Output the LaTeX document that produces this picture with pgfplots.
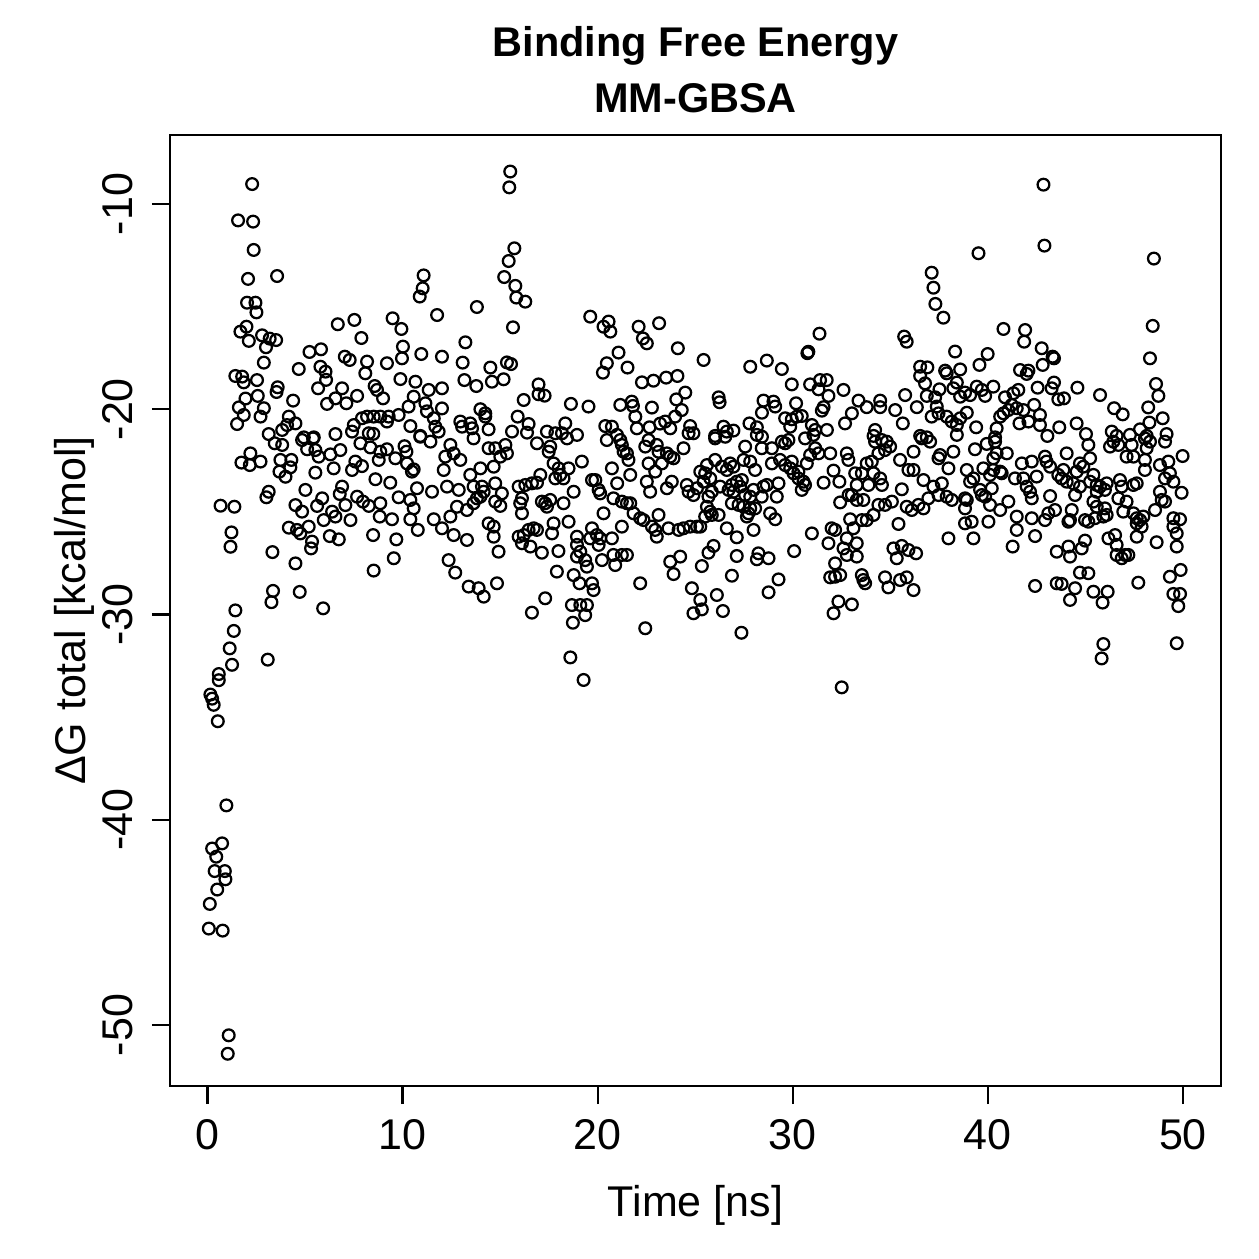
\documentclass[border=0pt]{standalone}
\usepackage{fontspec}
\setmainfont{Liberation Sans}
\usepackage{pgfplots}
\usepackage{pgfplotstable}
\pgfplotsset{compat=1.18}

% MM-GBSA binding free energy per frame: time [ns], dG total [kcal/mol]
\pgfplotstableread{
t dG
0.07 -45.3
0.78 -45.4
0.12 -44.1
0.50 -43.4
0.92 -42.9
0.89 -42.5
0.37 -42.5
0.45 -41.8
0.24 -41.4
0.75 -41.15
0.97 -39.3
0.53 -35.2
0.32 -34.4
0.24 -34.1
0.15 -33.9
0.58 -33.2
0.58 -32.9
1.26 -32.45
1.09 -50.5
1.04 -51.4
0.67 -24.7
1.38 -24.75
1.23 -26.0
1.18 -26.7
3.33 -26.96
4.51 -27.51
3.36 -28.85
3.28 -29.4
4.73 -28.9
5.93 -29.7
1.43 -29.8
1.35 -30.8
1.14 -31.65
3.09 -32.2
2.29 -9.03
1.57 -10.80
2.34 -10.86
2.37 -12.24
2.08 -13.65
3.57 -13.51
2.03 -14.81
2.46 -14.81
2.51 -15.28
2.00 -15.98
1.69 -16.22
2.12 -16.67
2.80 -16.40
3.00 -16.98
3.19 -16.56
3.52 -16.63
2.89 -17.73
1.43 -18.38
1.78 -18.41
1.86 -18.69
2.54 -18.58
3.60 -18.93
3.54 -19.16
2.58 -19.35
1.95 -19.48
1.61 -19.91
2.89 -19.95
1.86 -20.28
2.72 -20.36
1.52 -20.72
4.39 -19.58
4.68 -18.04
5.23 -17.21
5.82 -17.08
5.79 -17.93
6.05 -18.17
6.08 -18.57
5.67 -18.98
6.68 -15.86
7.53 -15.65
7.89 -16.53
7.04 -17.44
7.29 -17.60
8.18 -17.68
8.09 -18.25
6.90 -18.98
6.56 -19.47
7.67 -19.35
8.57 -18.87
9.20 -17.76
9.49 -15.57
9.94 -16.09
10.02 -16.95
9.97 -17.52
9.89 -18.53
10.96 -17.31
11.08 -13.48
11.03 -14.11
10.88 -14.51
11.77 -15.41
12.02 -17.44
10.66 -18.66
9.00 -19.47
8.69 -19.06
11.34 -19.06
12.02 -18.98
11.17 -19.71
10.31 -19.87
9.80 -20.28
9.29 -20.36
8.86 -20.36
8.52 -20.36
8.18 -20.36
7.92 -20.44
7.50 -20.77
7.12 -19.71
6.13 -19.74
7.41 -21.09
8.27 -21.17
10.40 -20.82
10.91 -21.30
11.60 -20.44
11.68 -20.85
11.85 -21.09
6.56 -21.21
4.94 -21.37
5.45 -21.37
3.14 -21.21
4.17 -20.36
4.08 -20.77
4.51 -20.69
3.83 -21.01
9.20 -20.60
10.57 -19.39
11.25 -20.10
12.02 -19.96
8.50 -21.20
3.45 -21.66
3.83 -21.74
4.85 -21.50
5.41 -21.42
5.11 -21.95
5.53 -21.99
5.70 -22.31
6.30 -22.20
6.81 -21.99
2.20 -22.15
1.74 -22.60
2.17 -22.72
2.72 -22.55
3.74 -22.47
4.30 -22.47
4.25 -22.83
3.69 -23.04
4.00 -23.29
5.53 -23.09
6.47 -22.88
7.41 -22.96
7.92 -22.77
7.58 -22.55
7.84 -21.66
8.35 -21.86
8.86 -22.07
9.20 -21.95
9.63 -22.39
10.10 -21.80
10.20 -22.07
10.91 -21.34
11.43 -21.58
8.78 -22.47
8.61 -23.41
9.37 -23.58
10.23 -22.64
10.48 -23.04
10.57 -22.93
10.74 -23.85
11.51 -24.02
9.80 -24.29
10.40 -24.42
10.57 -24.83
10.40 -25.36
10.78 -25.88
11.60 -25.36
8.83 -25.23
9.46 -25.36
8.86 -24.58
8.27 -24.71
7.97 -24.50
7.67 -24.26
7.33 -25.40
7.07 -24.67
6.90 -23.77
6.78 -24.13
6.56 -25.23
6.39 -24.99
5.96 -25.40
5.88 -24.34
5.62 -24.71
5.19 -25.72
5.36 -26.45
5.31 -26.78
4.76 -26.05
4.51 -24.67
4.85 -24.99
5.02 -23.93
4.17 -25.77
4.59 -25.88
6.27 -26.18
6.73 -26.34
8.49 -26.13
9.68 -26.34
9.55 -27.26
8.52 -27.86
3.14 -24.02
3.02 -24.29
15.52 -8.42
15.47 -9.19
15.73 -12.16
15.44 -12.78
15.21 -13.56
15.78 -13.99
15.83 -14.56
16.29 -14.76
13.81 -15.02
15.66 -16.01
13.22 -16.74
13.08 -17.73
14.50 -17.97
15.35 -17.72
15.56 -17.80
13.17 -18.58
13.78 -18.87
14.58 -18.66
15.18 -18.54
16.97 -18.79
16.97 -19.27
17.28 -19.34
16.21 -19.55
13.99 -20.00
14.24 -20.20
14.24 -20.36
12.96 -20.60
13.05 -20.85
13.47 -20.69
13.56 -20.93
14.41 -20.98
15.90 -20.36
16.46 -20.72
16.38 -21.14
15.61 -21.09
17.40 -21.09
17.83 -21.17
18.17 -21.17
18.34 -20.69
18.94 -21.25
18.63 -19.74
19.53 -19.87
19.62 -15.49
20.30 -15.98
20.56 -15.73
20.65 -16.22
22.10 -15.98
22.32 -16.55
22.52 -16.79
23.15 -15.81
21.07 -17.24
20.47 -17.76
20.27 -18.22
21.53 -17.97
24.11 -17.03
22.27 -18.69
22.86 -18.61
23.51 -18.46
24.09 -18.38
24.49 -19.19
24.03 -19.52
25.43 -17.60
21.16 -19.79
21.75 -19.63
21.81 -19.84
21.93 -20.36
22.78 -19.92
24.31 -20.04
23.97 -20.36
20.39 -20.82
20.73 -20.85
22.01 -20.93
22.66 -20.88
23.20 -20.70
23.46 -20.60
23.72 -20.93
24.74 -20.82
24.66 -21.17
24.91 -21.17
20.99 -21.25
13.64 -21.42
12.45 -21.74
12.19 -22.31
12.62 -22.15
12.96 -22.47
12.11 -22.96
13.47 -23.20
14.41 -21.90
14.75 -21.90
15.27 -21.74
15.35 -22.15
15.01 -22.31
13.99 -22.88
14.67 -22.80
12.28 -23.77
12.88 -23.93
13.64 -23.77
14.07 -23.77
14.16 -24.02
13.99 -24.26
14.75 -23.61
15.09 -24.10
14.75 -24.50
15.01 -24.71
15.95 -23.77
16.29 -23.69
16.63 -23.61
16.89 -23.58
16.12 -24.34
16.03 -24.58
16.12 -25.07
17.06 -23.20
16.89 -21.66
17.57 -21.82
17.49 -22.07
17.74 -22.64
18.00 -22.88
18.08 -23.20
18.25 -23.37
17.83 -23.37
18.51 -22.88
18.43 -21.42
19.19 -22.55
17.14 -24.50
17.31 -24.58
17.40 -24.75
17.57 -24.42
18.25 -24.58
18.77 -24.02
18.51 -25.48
17.74 -25.56
17.66 -26.05
16.72 -25.80
16.89 -25.88
16.46 -25.88
16.21 -26.13
15.95 -26.21
16.55 -26.69
16.12 -26.53
17.14 -26.99
17.99 -26.91
18.94 -26.21
18.94 -26.61
19.11 -26.94
19.36 -27.35
19.45 -27.67
18.94 -27.18
19.71 -25.80
19.62 -26.29
19.96 -26.13
20.13 -26.29
20.05 -26.61
20.22 -27.35
20.73 -26.29
20.81 -27.10
20.90 -27.59
21.24 -27.10
21.50 -27.10
21.24 -25.72
20.30 -25.07
20.05 -23.93
20.13 -24.10
19.88 -23.45
19.71 -23.45
20.81 -24.34
21.00 -23.61
21.24 -24.50
21.50 -24.58
21.67 -24.58
20.73 -22.88
20.47 -21.50
21.16 -21.50
21.24 -21.74
21.33 -22.07
21.50 -22.15
21.58 -22.47
21.67 -23.20
21.84 -25.07
22.18 -25.31
22.35 -25.40
23.12 -25.15
22.78 -25.72
23.03 -26.21
22.95 -25.88
23.63 -25.80
24.15 -25.88
24.40 -25.80
24.74 -25.72
25.09 -25.72
22.18 -28.48
22.44 -30.67
23.72 -27.43
24.23 -27.18
23.89 -28.03
24.83 -28.72
24.91 -29.94
22.61 -21.50
22.44 -21.82
23.03 -21.74
23.12 -22.07
23.55 -22.15
23.89 -22.39
23.72 -22.31
24.40 -21.90
22.61 -22.64
23.29 -22.64
22.95 -23.04
22.52 -23.53
22.69 -24.02
23.55 -23.85
23.80 -23.53
24.57 -23.69
24.66 -24.02
24.91 -24.18
25.09 -23.85
14.67 -25.72
14.41 -25.56
14.67 -26.21
14.92 -26.94
13.39 -28.64
13.90 -28.72
14.16 -29.13
14.84 -28.48
12.36 -27.35
12.70 -27.96
12.62 -26.13
13.30 -26.37
12.02 -25.80
12.45 -25.23
12.79 -24.75
13.30 -24.91
13.64 -24.58
13.81 -24.34
16.63 -29.91
17.31 -29.21
18.68 -29.54
19.11 -29.54
19.45 -29.54
19.36 -30.03
18.73 -30.40
19.71 -28.48
19.79 -28.81
19.07 -28.48
18.60 -32.09
19.28 -33.19
17.91 -27.91
18.77 -28.08
37.12 -13.35
37.21 -14.08
37.31 -14.87
37.72 -15.54
31.37 -16.32
35.71 -16.46
35.84 -16.71
30.75 -17.27
30.80 -17.20
38.32 -17.19
27.82 -17.93
28.67 -17.63
29.44 -18.04
29.95 -18.79
30.89 -18.79
31.40 -18.58
31.74 -18.58
31.32 -19.03
31.83 -19.35
32.60 -19.06
26.20 -19.42
26.25 -19.66
28.50 -19.58
29.01 -19.63
29.10 -19.87
28.42 -20.17
30.17 -19.71
31.58 -19.90
31.49 -20.07
29.61 -20.44
29.95 -20.49
30.21 -20.36
30.46 -20.33
29.87 -20.85
33.37 -19.58
33.79 -19.90
34.48 -19.58
34.48 -19.90
33.03 -20.20
32.68 -20.69
35.25 -20.04
35.64 -20.69
35.76 -19.31
36.36 -19.90
36.53 -17.93
36.90 -17.96
36.53 -18.38
36.78 -18.74
37.81 -18.12
37.89 -18.25
38.58 -18.06
37.52 -19.03
37.30 -19.42
36.87 -19.35
38.41 -18.70
38.23 -18.98
38.58 -19.39
38.83 -19.19
37.38 -19.87
37.47 -20.20
37.12 -20.36
37.89 -20.36
38.15 -20.60
38.58 -20.44
38.41 -20.77
27.78 -20.69
28.16 -20.88
26.45 -20.85
26.62 -21.09
26.96 -21.04
26.02 -21.30
28.16 -21.25
28.42 -21.34
30.98 -20.77
31.15 -21.01
31.75 -21.01
31.06 -21.25
34.22 -21.01
34.14 -21.30
36.53 -21.30
36.87 -21.37
38.41 -21.25
26.02 -21.42
26.54 -21.34
28.41 -21.90
27.56 -21.82
29.61 -21.66
29.78 -21.50
29.44 -21.58
30.63 -21.42
31.15 -21.90
31.32 -22.15
30.89 -22.23
30.72 -22.64
31.92 -22.15
32.77 -22.15
32.85 -22.47
28.93 -21.90
26.02 -22.47
25.60 -22.72
26.37 -22.80
26.79 -22.64
26.62 -22.96
26.96 -22.80
27.48 -22.47
27.82 -22.55
28.07 -22.96
28.93 -22.64
29.35 -22.47
29.61 -22.72
29.95 -22.55
29.87 -22.88
30.29 -23.04
30.04 -23.12
30.29 -23.37
30.55 -23.53
30.63 -23.69
30.46 -23.93
25.26 -23.04
25.51 -23.12
25.43 -23.53
25.77 -23.37
25.85 -24.02
25.68 -24.26
26.28 -23.77
26.88 -23.69
27.13 -23.53
27.39 -23.45
27.31 -23.77
26.96 -24.02
26.71 -23.93
27.99 -23.93
27.82 -24.26
27.56 -24.18
28.50 -23.77
28.67 -23.69
29.27 -23.61
29.18 -24.26
28.41 -24.26
26.88 -24.58
27.22 -24.66
27.48 -24.75
27.82 -24.83
28.07 -24.83
27.65 -25.23
27.73 -25.07
25.60 -24.75
25.77 -24.99
25.85 -25.15
26.20 -25.15
25.51 -25.23
25.26 -25.72
28.84 -25.07
29.10 -25.36
26.62 -25.80
27.13 -26.24
27.99 -25.88
25.94 -26.66
25.68 -26.99
27.13 -27.15
28.24 -27.02
28.16 -27.31
28.76 -27.26
25.34 -27.64
26.88 -28.11
26.11 -29.05
26.42 -29.83
25.26 -29.29
25.34 -29.75
29.27 -28.29
28.76 -28.92
30.07 -26.91
27.37 -30.89
30.98 -26.05
31.58 -23.58
32.39 -23.53
32.09 -22.99
32.43 -24.54
32.86 -24.18
33.20 -23.12
33.28 -23.69
33.54 -23.12
33.79 -22.64
34.05 -22.55
34.14 -23.12
34.48 -23.37
34.57 -23.69
33.88 -23.69
33.62 -24.42
33.28 -24.42
33.03 -24.18
34.22 -21.58
34.56 -21.50
34.82 -21.58
34.99 -21.82
34.73 -21.99
34.39 -22.15
35.50 -22.47
35.93 -22.96
36.19 -22.96
36.70 -23.45
35.59 -23.90
35.08 -24.50
34.73 -24.66
34.39 -24.66
34.14 -25.15
33.79 -25.40
33.54 -25.40
32.94 -25.36
33.11 -25.80
32.77 -26.29
33.28 -26.53
33.28 -27.18
32.77 -27.10
32.60 -26.78
31.83 -26.53
31.99 -25.80
32.17 -25.88
32.17 -27.51
31.92 -28.19
32.17 -28.16
32.43 -28.08
33.54 -28.08
33.62 -28.32
33.71 -28.48
34.73 -28.19
34.90 -28.68
35.16 -26.78
35.59 -26.66
35.33 -27.26
35.93 -26.86
36.32 -27.02
35.50 -28.32
35.84 -28.19
36.19 -28.81
32.34 -29.37
33.03 -29.51
32.09 -29.94
32.51 -33.55
35.42 -25.59
35.84 -24.75
36.10 -24.91
36.44 -24.66
36.70 -24.83
36.95 -24.34
37.47 -24.18
37.89 -24.26
38.15 -24.42
37.98 -26.29
37.55 -22.23
37.64 -23.61
37.98 -22.88
38.23 -22.07
37.47 -22.39
36.19 -22.07
36.61 -21.42
37.04 -21.58
37.21 -23.77
42.85 -9.06
39.52 -12.40
42.90 -12.03
48.51 -12.66
48.45 -15.94
48.31 -17.52
48.62 -18.77
48.74 -19.35
48.22 -19.91
48.28 -20.65
48.96 -20.44
47.80 -20.98
49.16 -21.21
40.80 -16.09
41.91 -16.14
41.86 -16.71
42.76 -17.03
42.81 -17.84
43.32 -17.44
43.39 -17.52
39.99 -17.31
39.57 -17.84
41.65 -18.09
42.08 -18.12
41.99 -18.28
43.39 -18.70
43.27 -18.98
42.55 -18.95
44.59 -18.95
45.75 -19.31
46.47 -19.95
46.91 -20.25
43.61 -19.52
43.90 -19.47
39.09 -19.31
39.43 -18.90
39.69 -19.06
39.86 -19.35
40.28 -18.90
40.88 -19.42
41.31 -19.22
41.56 -19.06
41.22 -19.79
41.05 -20.04
40.80 -20.20
40.63 -20.36
41.48 -19.95
41.82 -20.04
42.37 -19.79
42.67 -20.28
42.08 -20.60
42.67 -20.77
41.62 -20.69
38.92 -20.17
39.40 -20.88
40.45 -20.93
40.37 -21.37
43.66 -20.88
44.55 -20.69
45.03 -21.21
43.05 -21.30
46.35 -21.09
46.60 -21.30
47.28 -21.25
48.14 -21.30
39.34 -21.95
39.94 -21.69
40.37 -21.58
40.45 -22.15
40.97 -22.15
40.28 -22.39
45.15 -21.74
45.24 -22.39
46.26 -21.82
46.43 -21.58
46.69 -21.74
47.37 -21.74
47.11 -22.31
47.46 -22.31
48.05 -21.42
48.31 -21.58
48.14 -21.90
49.08 -21.58
48.05 -22.47
48.05 -22.96
48.82 -22.72
49.25 -22.55
49.33 -23.12
49.08 -23.37
49.51 -23.53
49.98 -22.28
49.93 -24.07
48.82 -24.02
49.08 -24.50
48.91 -24.42
48.57 -24.91
49.51 -25.31
49.85 -25.36
49.51 -25.72
49.68 -26.05
49.68 -26.69
48.65 -26.48
49.88 -27.83
49.33 -28.16
49.51 -29.00
49.85 -29.00
49.76 -29.59
49.68 -31.40
47.71 -28.45
45.92 -31.44
45.83 -32.14
45.41 -28.89
46.14 -28.89
45.88 -29.42
44.21 -29.29
44.47 -28.72
43.53 -28.48
43.78 -28.51
42.42 -28.61
44.72 -27.96
45.15 -27.99
43.53 -26.94
44.13 -26.69
44.21 -27.18
44.81 -26.78
44.98 -26.40
46.18 -26.29
46.52 -26.13
46.60 -26.61
46.60 -27.10
46.86 -27.26
47.03 -27.10
47.20 -27.10
47.63 -26.21
47.63 -25.56
47.80 -25.40
47.97 -25.23
47.88 -25.72
47.63 -25.31
47.46 -25.07
46.94 -24.99
47.11 -24.50
46.69 -24.34
46.86 -23.77
47.46 -23.69
47.63 -23.61
46.77 -23.45
46.09 -23.61
46.00 -23.93
45.75 -23.77
45.58 -24.02
45.41 -24.50
45.58 -24.75
46.00 -24.83
46.09 -25.15
45.92 -25.23
45.49 -25.31
45.15 -25.48
44.98 -25.40
45.41 -23.20
45.24 -23.53
45.58 -23.69
44.72 -22.64
44.89 -22.80
44.55 -23.04
44.72 -23.77
44.47 -24.18
44.30 -24.91
44.21 -25.40
44.38 -23.61
44.04 -23.53
43.78 -23.37
43.61 -23.20
43.87 -22.96
44.04 -22.15
43.01 -22.55
43.19 -22.80
42.93 -22.31
42.50 -23.28
43.19 -24.23
43.44 -24.91
43.10 -25.07
42.93 -25.40
44.13 -25.48
42.25 -22.55
41.74 -22.64
41.39 -23.37
41.82 -23.37
41.99 -23.77
42.16 -24.02
42.25 -24.34
42.25 -25.31
42.42 -26.18
41.48 -25.23
41.48 -25.88
41.27 -26.69
40.63 -23.04
40.71 -23.12
40.28 -22.96
40.11 -23.20
39.77 -22.88
39.26 -23.37
39.09 -23.53
38.92 -22.96
39.69 -24.18
39.86 -24.26
40.20 -23.85
40.11 -24.66
40.63 -24.91
41.05 -24.50
39.60 -23.93
38.83 -24.34
38.92 -24.42
38.83 -24.83
39.17 -25.48
38.83 -25.56
39.26 -26.29
40.03 -25.48
}\gbsa

\begin{document}
\begin{tikzpicture}[font=\fontsize{17.2bp}{20.6bp}\selectfont]
\begin{axis}[
  scale only axis,
  width=420.4bp, height=380.4bp,
  xmin=-1.92, xmax=51.95,
  ymin=-52.97, ymax=-6.64,
  axis line style={line width=0.9bp, black},
  tick align=outside, tick pos=left,
  major tick length=7.2bp,
  every tick/.style={black, line width=0.9bp},
  xtick={0,10,20,30,40,50},
  xticklabels={0,10,20,30,40,50},
  ytick={-50,-40,-30,-20,-10},
  yticklabels={-50,-40,-30,-20,-10},
  xticklabel style={anchor=north, inner sep=0pt, yshift=-5.8bp},
  yticklabel style={xshift=-7.6bp, rotate=90, anchor=south, inner sep=0pt},
  every axis x label/.style={at={(axis description cs:0.5,-0.1367)}, anchor=base, inner sep=0pt},
  every axis y label/.style={at={(axis description cs:-0.0805,0.5)}, rotate=90, anchor=base, inner sep=0pt},
  every axis title/.style={at={(axis description cs:0.5,1.0231)}, anchor=south, align=center, inner sep=0pt,
    font=\bfseries\fontsize{16.6bp}{22.4bp}\selectfont},
  xlabel={Time [ns]},
  ylabel={ΔG total [kcal/mol]},
  title={Binding Free Energy\\MM-GBSA},
]
\addplot[only marks, mark=o, mark size=2.35bp, mark options={line width=0.9bp, black}]
  table[x=t, y=dG] {\gbsa};
\end{axis}
\pgfresetboundingbox
\path[use as bounding box]
  ([xshift=-68bp, yshift=-69.2bp]current axis.south west)
  rectangle ([xshift=15.2bp, yshift=54bp]current axis.north east);
\end{tikzpicture}
\end{document}
